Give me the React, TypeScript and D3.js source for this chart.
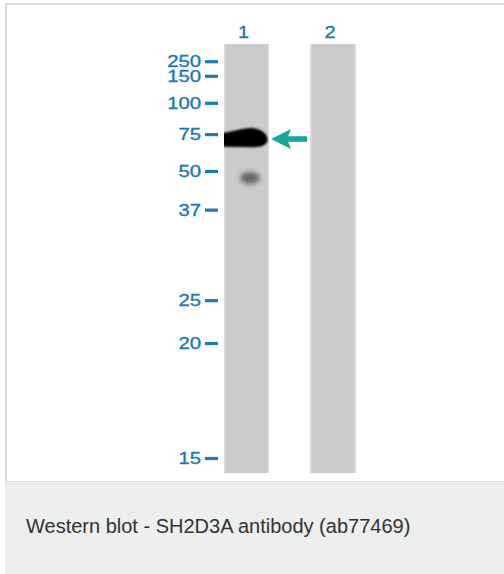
import React from "react";
import * as d3 from "d3";

// Marker ladder (kDa) and their relative migration (Rf, 0 = top of lane, 1 = bottom)
const markerKDa = [250, 150, 100, 75, 50, 37, 25, 20, 15];
const markerRf = [0.041, 0.075, 0.138, 0.211, 0.297, 0.387, 0.598, 0.698, 0.966];
const laneNames = ["1", "2"];
// Detected bands
const bandLane = ["1", "1"];
const bandKDa = [72, 47.5];
const bandIntensity = [1.0, 0.7];
const arrowKDa = 72;
const caption = "Western blot - SH2D3A antibody (ab77469)";

const W = 504;
const H = 574;
const laneTop = 44;
const laneBottom = 473;
const BLUE = "#2278b5";

export default function App() {
  const kdaToRf = d3.scaleLog().domain(markerKDa).range(markerRf);
  const y = d3.scaleLinear().domain([0, 1]).range([laneTop, laneBottom]);
  const x = d3.scaleBand<string>().domain(laneNames).range([224, 355.5]).paddingInner(0.48).paddingOuter(0);
  const bw = x.bandwidth();
  const yk = (k: number) => y(kdaToRf(k));

  const arrowY = yk(arrowKDa) + 0.8;
  const arrowTip = (x("1") as number) + bw + 2;
  const arrowTail = arrowTip + 36;

  const labelStyle = {
    fontFamily: "Liberation Sans, Arial, sans-serif",
    fontSize: 16,
    fill: BLUE,
    stroke: BLUE,
    strokeWidth: 0.35,
  } as const;

  return (
    <svg width={W} height={H} style={{ position: "absolute", left: 0, top: 0 }} xmlns="http://www.w3.org/2000/svg">
      <defs>
        <filter id="blur1" x="-30%" y="-60%" width="160%" height="220%">
          <feGaussianBlur stdDeviation="0.9" />
        </filter>
        <filter id="blur2" x="-60%" y="-80%" width="220%" height="260%">
          <feGaussianBlur stdDeviation="2.4" />
        </filter>
        {laneNames.map((l) => (
          <clipPath id={`clip${l}`} key={l}>
            <rect x={x(l)} y={laneTop} width={bw} height={laneBottom - laneTop} />
          </clipPath>
        ))}
      </defs>
      <rect x={0} y={0} width={W} height={H} fill="#ffffff" />
      {/* caption area */}
      <rect x={5} y={481} width={W - 5} height={H - 481} fill="#edeeee" />
      <line x1={5} x2={W} y1={481.5} y2={481.5} stroke="#dcdddd" strokeWidth={1} />
      {/* frame borders */}
      <rect x={5} y={3} width={W - 5} height={2} fill="#dcdcdc" />
      <rect x={5} y={3} width={2} height={478} fill="#dcdcdc" />

      {/* lanes */}
      {laneNames.map((l) => (
        <g key={l}>
          <rect x={x(l)} y={laneTop} width={bw} height={laneBottom - laneTop} fill="#cbcbcb" />
          <rect x={x(l)} y={laneTop} width={1.5} height={laneBottom - laneTop} fill="#d8d8d8" />
          <rect x={(x(l) as number) + bw - 1.5} y={laneTop} width={1.5} height={laneBottom - laneTop} fill="#d8d8d8" />
          <text
            transform={`translate(${(x(l) as number) + bw / 2 - 3},38) scale(1.25,1)`}
            textAnchor="middle"
            {...labelStyle}
          >
            {l}
          </text>
        </g>
      ))}

      {/* bands */}
      {bandKDa.map((k, i) => {
        const l = bandLane[i];
        const cx = (x(l) as number) + bw / 2;
        const cy = yk(k);
        if (bandIntensity[i] > 0.9) {
          return (
            <g key={i} clipPath={`url(#clip${l})`}>
              <path
                transform={`translate(${cx},${cy})`}
                d="M-25,-5.5 C-15,-6 -9,-9 1,-10 C12,-11 20,-6 21,0 C22,6 16,9 7,9 L-25,8.5 Z"
                fill="#050505"
                filter="url(#blur1)"
              />
            </g>
          );
        }
        return (
          <g key={i} clipPath={`url(#clip${l})`}>
            <ellipse
              cx={cx + 3.5}
              cy={cy}
              rx={10}
              ry={6}
              fill="#3a3a3a"
              opacity={bandIntensity[i]}
              filter="url(#blur2)"
            />
          </g>
        );
      })}

      {/* arrow */}
      <g fill="#17a89a" stroke="none">
        <rect x={arrowTip + 14} y={arrowY - 2.8} width={arrowTail - arrowTip - 14} height={5.6} />
        <path d={`M${arrowTip},${arrowY} L${arrowTip + 20},${arrowY - 10} L${arrowTip + 16},${arrowY} L${arrowTip + 20},${arrowY + 10} Z`} />
      </g>

      {/* markers */}
      {markerKDa.map((k, i) => {
        const yy = y(markerRf[i]);
        return (
          <g key={k}>
            <rect x={205} y={yy - 1.5} width={13} height={3.2} fill={BLUE} />
            <text
              transform={`translate(201,${yy + 5.6}) scale(1.27,1)`}
              textAnchor="end"
              {...labelStyle}
            >
              {k}
            </text>
          </g>
        );
      })}

      <text x={26} y={532.5} fontFamily="Liberation Sans, Arial, sans-serif" fontSize={20} fill="#333333">
        {caption}
      </text>
    </svg>
  );
}
